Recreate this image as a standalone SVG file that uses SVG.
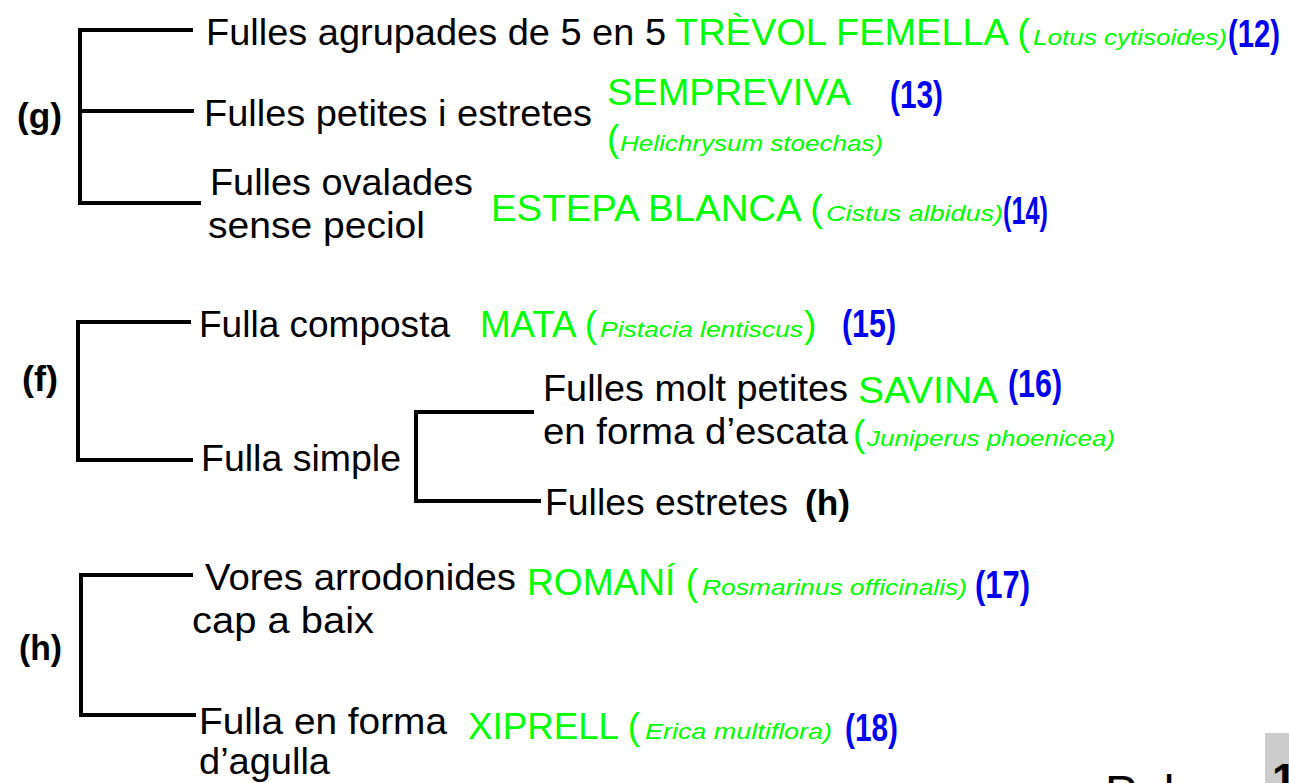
<svg xmlns="http://www.w3.org/2000/svg" width="1289" height="783" viewBox="0 0 1289 783">
<style>
.t{font-family:"Liberation Sans",Arial,sans-serif;font-size:37px;fill:#000}
.lb{font-family:"Liberation Sans",Arial,sans-serif;font-size:35px;font-weight:bold;fill:#000}
.g{font-family:"Liberation Sans",Arial,sans-serif;font-size:37px;fill:#00ff00}
.gi{font-family:"Liberation Sans",Arial,sans-serif;font-size:22px;font-style:italic;fill:#00ff00}
.n{font-family:"Liberation Sans",Arial,sans-serif;font-size:39px;font-weight:bold;fill:#0000ee}
.c{stroke:#000;stroke-width:4;fill:none;stroke-linecap:square}
</style>
<rect width="1289" height="783" fill="#fff"/>
<g id="connectors">
<path class="c" d="M80 30V203M80 30H191M84 111H192M80 203H199"/>
<path class="c" d="M78 322V460M78 322H189M78 460H191"/>
<path class="c" d="M416 412V501M416 412H532M416 501H539"/>
<path class="c" d="M81 575V715M81 575H191M81 715H194"/>
</g>
<g id="label-g"><text class="lb" x="17" y="128" textLength="45" lengthAdjust="spacingAndGlyphs">(g)</text></g>
<g id="label-f"><text class="lb" x="22" y="391" textLength="36" lengthAdjust="spacingAndGlyphs">(f)</text></g>
<g id="label-h"><text class="lb" x="19" y="660" textLength="43" lengthAdjust="spacingAndGlyphs">(h)</text></g>
<g id="node-g1">
<text class="t" x="206" y="45" textLength="460" lengthAdjust="spacingAndGlyphs">Fulles agrupades de 5 en 5</text>
<text class="g" x="675" y="45" textLength="355" lengthAdjust="spacingAndGlyphs">TRÈVOL FEMELLA (</text>
<text class="gi" x="1033" y="45" textLength="194" lengthAdjust="spacingAndGlyphs">Lotus cytisoides)</text>
<text class="n" x="1228" y="47" textLength="52" lengthAdjust="spacingAndGlyphs">(12)</text>
</g>
<g id="node-g2">
<text class="t" x="204" y="126" textLength="388" lengthAdjust="spacingAndGlyphs">Fulles petites i estretes</text>
<text class="g" x="607" y="105" textLength="244" lengthAdjust="spacingAndGlyphs">SEMPREVIVA</text>
<text class="n" x="890" y="108" textLength="53" lengthAdjust="spacingAndGlyphs">(13)</text>
<text class="g" x="607" y="151">(</text>
<text class="gi" x="620" y="151" textLength="263" lengthAdjust="spacingAndGlyphs">Helichrysum stoechas)</text>
</g>
<g id="node-g3">
<text class="t" x="210" y="195" textLength="263" lengthAdjust="spacingAndGlyphs">Fulles ovalades</text>
<text class="t" x="208" y="238" textLength="217" lengthAdjust="spacingAndGlyphs">sense peciol</text>
<text class="g" x="491" y="221" textLength="332" lengthAdjust="spacingAndGlyphs">ESTEPA BLANCA (</text>
<text class="gi" x="826" y="221" textLength="177" lengthAdjust="spacingAndGlyphs">Cistus albidus)</text>
<text class="n" x="1003" y="224" textLength="45" lengthAdjust="spacingAndGlyphs">(14)</text>
</g>
<g id="node-f1">
<text class="t" x="199" y="337" textLength="251" lengthAdjust="spacingAndGlyphs">Fulla composta</text>
<text class="g" x="480" y="337" textLength="117" lengthAdjust="spacingAndGlyphs">MATA (</text>
<text class="gi" x="600" y="337" textLength="203" lengthAdjust="spacingAndGlyphs">Pistacia lentiscus</text>
<text class="g" x="804" y="337">)</text>
<text class="n" x="842" y="337" textLength="54" lengthAdjust="spacingAndGlyphs">(15)</text>
</g>
<g id="node-f2"><text class="t" x="201" y="471" textLength="200" lengthAdjust="spacingAndGlyphs">Fulla simple</text></g>
<g id="node-s1">
<text class="t" x="543" y="401" textLength="305" lengthAdjust="spacingAndGlyphs">Fulles molt petites</text>
<text class="g" x="858" y="403" textLength="140" lengthAdjust="spacingAndGlyphs">SAVINA</text>
<text class="n" x="1008" y="397" textLength="54" lengthAdjust="spacingAndGlyphs">(16)</text>
<text class="t" x="543" y="444" textLength="305" lengthAdjust="spacingAndGlyphs">en forma d’escata</text>
<text class="g" x="853" y="446">(</text>
<text class="gi" x="867" y="446" textLength="248" lengthAdjust="spacingAndGlyphs">Juniperus phoenicea)</text>
</g>
<g id="node-s2">
<text class="t" x="545" y="515" textLength="243" lengthAdjust="spacingAndGlyphs">Fulles estretes</text>
<text class="lb" x="805" y="515" textLength="45" lengthAdjust="spacingAndGlyphs">(h)</text>
</g>
<g id="node-h1">
<text class="t" x="205" y="590" textLength="311" lengthAdjust="spacingAndGlyphs">Vores arrodonides</text>
<text class="t" x="192" y="633" textLength="182" lengthAdjust="spacingAndGlyphs">cap a baix</text>
<text class="g" x="527" y="595" textLength="171" lengthAdjust="spacingAndGlyphs">ROMANÍ (</text>
<text class="gi" x="702" y="595" textLength="265" lengthAdjust="spacingAndGlyphs">Rosmarinus officinalis)</text>
<text class="n" x="975" y="598" textLength="55" lengthAdjust="spacingAndGlyphs">(17)</text>
</g>
<g id="node-h2">
<text class="t" x="199" y="734" textLength="248" lengthAdjust="spacingAndGlyphs">Fulla en forma</text>
<text class="t" x="199" y="774" textLength="131" lengthAdjust="spacingAndGlyphs">d’agulla</text>
<text class="g" x="468" y="739" textLength="172" lengthAdjust="spacingAndGlyphs">XIPRELL (</text>
<text class="gi" x="645" y="739" textLength="187" lengthAdjust="spacingAndGlyphs">Erica multiflora)</text>
<text class="n" x="845" y="741" textLength="53" lengthAdjust="spacingAndGlyphs">(18)</text>
</g>
<g id="footer">
<text class="t" x="1105" y="809" style="font-size:48px">Pal</text>
<rect x="1265" y="733" width="24" height="50" fill="#cccccc"/>
<text class="lb" x="1272" y="795" style="font-size:44px">1</text>
</g>
</svg>
